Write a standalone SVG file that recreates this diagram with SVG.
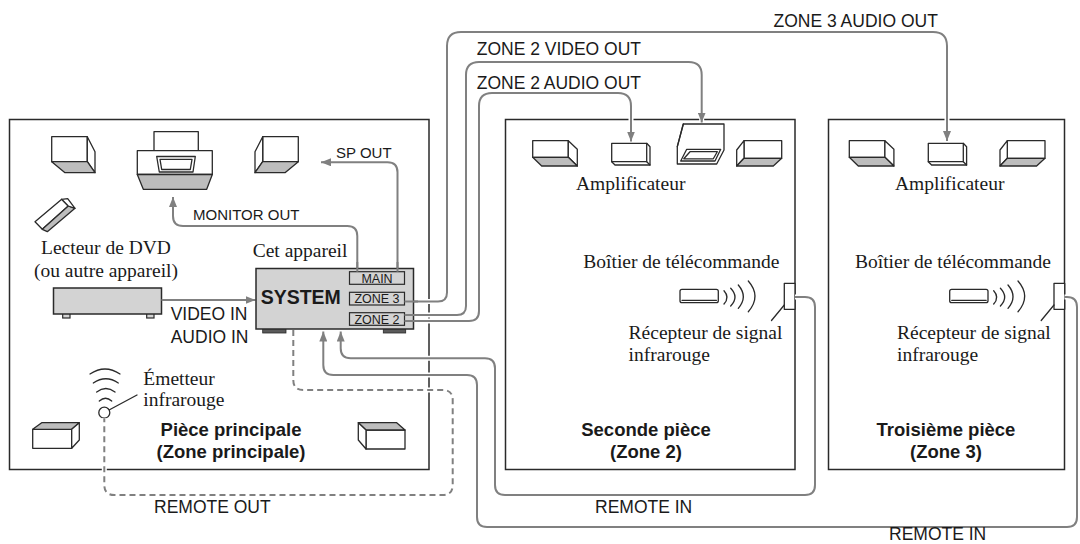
<svg xmlns="http://www.w3.org/2000/svg" xmlns:xlink="http://www.w3.org/1999/xlink" width="1080" height="544" viewBox="0 0 1080 544">
  <style>
    .room { fill: none; stroke: #2a2a2a; stroke-width: 1.5; }
    .ln { fill: none; stroke: #2a2a2a; stroke-width: 1.3; stroke-linejoin: round; stroke-linecap: round; }
    .face { fill: #ffffff; stroke: #2a2a2a; stroke-width: 1.3; stroke-linejoin: round; }
    .shade { fill: #bdbdbd; stroke: #2a2a2a; stroke-width: 1.3; stroke-linejoin: round; }
    .dev { fill: #d3d3d3; stroke: #2a2a2a; stroke-width: 1.5; }
    .foot { fill: #5a5a5a; stroke: #2a2a2a; stroke-width: 0.8; }
    .port { fill: #d3d3d3; stroke: #2a2a2a; stroke-width: 1.2; }
    .halo { fill: none; stroke: #ffffff; stroke-width: 5; }
    .wire { fill: none; stroke: #808080; stroke-width: 2; }
    .dash { stroke-dasharray: 6 4; }
    .arrow { marker-end: url(#arr); }
    .sans { font-family: "Liberation Sans", Arial, sans-serif; fill: #1a1a1a; }
    .lbl { font-size: 17.5px; }
    .lbl-s { font-size: 15px; }
    .tag { font-size: 12.5px; }
    .bold { font-weight: bold; font-size: 19.5px; }
    .title { font-weight: bold; font-size: 18.5px; }
    .serif { font-family: "Liberation Serif", "Times New Roman", serif; font-size: 19.5px; fill: #1a1a1a; }
    .mid { text-anchor: middle; }
  </style>
  <defs>
    <marker id="arr" viewBox="0 0 10 8" refX="10" refY="4" markerWidth="10" markerHeight="8" markerUnits="userSpaceOnUse" orient="auto">
      <path d="M0,0 L10,4 L0,8 z" fill="#808080"/>
    </marker>
    <!-- cube-style loudspeaker, shaded underside on the left -->
    <g id="spkA">
      <rect class="face" x="51.7" y="136.7" width="35.6" height="25"/>
      <polygon class="face" points="87.3,136.7 95,151.7 95,172.7 87.3,161.7"/>
      <polygon class="shade" points="51.7,161.7 87.3,161.7 95,172.7 65,172.7"/>
    </g>
    <!-- flat loudspeakers used in the other rooms -->
    <g id="spkB">
      <rect class="face" x="532.7" y="140.7" width="35.6" height="16.6"/>
      <polygon class="face" points="568.3,140.7 577.3,149.3 577.3,166 568.3,157.3"/>
      <polygon class="shade" points="532.7,157.3 568.3,157.3 577.3,166 541.7,166"/>
    </g>
    <g id="spkC">
      <rect class="face" x="744" y="140.7" width="37.7" height="17.6"/>
      <polygon class="face" points="744,140.7 736.7,150 736.7,166 744,158.3"/>
      <polygon class="shade" points="744,158.3 781.7,158.3 773.3,166 736.7,166"/>
    </g>
    <g id="amp">
      <polygon class="face" points="611.7,143.3 646.7,143.3 650,146.7 650,165 615,165 611.7,161.7"/>
      <polyline class="ln" points="611.7,161.7 646.7,161.7 646.7,143.3"/>
      <line class="ln" x1="646.7" y1="161.7" x2="650" y2="165"/>
    </g>
    <!-- hand-held remote with its infrared waves, and the receiver -->
    <g id="zoneRemote">
      <rect class="face" x="680" y="289.3" width="38.3" height="13.4" rx="2"/>
      <line class="ln" x1="682" y1="300.3" x2="716.5" y2="300.3"/>
      <path class="ln" d="M724,290.7 Q730,297.3 724,304"/>
      <path class="ln" d="M730.7,288.3 Q739.3,297.3 730.7,306"/>
      <path class="ln" d="M738.3,285 Q748.3,296.7 738.3,308.3"/>
      <path class="ln" d="M748.3,281 Q761.7,296.3 748.3,311.7"/>
      <rect class="face" x="784.3" y="283.3" width="10.7" height="26"/>
      <line class="ln" x1="784.3" y1="305" x2="771.5" y2="320.5"/>
    </g>

    <!-- cable routes -->
    <path id="cZ3a" d="M404.5,301.5 H438 Q447,301.5 447,292.5 V46 Q447,32 461,32 H933 Q947,32 947,46 V141"/>
    <path id="cZ2v" d="M404.5,315 H457 Q466,315 466,306 V75 Q466,62 479,62 H688.7 Q701.7,62 701.7,75 V122.5"/>
    <path id="cZ2a" d="M404.5,321 H469 Q479,321 479,311 V106 Q479,93 492,93 H618 Q631,93 631,106 V141.5"/>
    <path id="cSP" d="M397.5,271.7 V172.3 Q397.5,162.3 387.5,162.3 H321"/>
    <path id="cMon" d="M357.3,271.7 V236 Q357.3,226 347.3,226 H183 Q173,226 173,216 V197"/>
    <path id="cVid" d="M161.5,300 H255.5"/>
    <path id="cR2" d="M795,297 H805 Q815,297 815,307 V485 Q815,495 805,495 H505 Q495,495 495,485 V368.3 Q495,358.3 485,358.3 H350.7 Q340.7,358.3 340.7,348.3 V331.5"/>
    <path id="cR3" d="M1064.5,297 H1067 Q1077,297 1077,307 V517 Q1077,527 1067,527 H487 Q477,527 477,517 V385 Q477,375 467,375 H333.3 Q323.3,375 323.3,365 V331.5"/>
    <path id="cRo" d="M293.3,330 V380 Q293.3,390 303.3,390 H442.7 Q452.7,390 452.7,400 V485 Q452.7,495 442.7,495 H114.3 Q104.3,495 104.3,485 V418.2"/>
  </defs>

  <!-- rooms -->
  <g id="room-main">
    <rect class="room" x="9.5" y="119.5" width="419.5" height="350"/>
    <text class="sans title mid" x="231" y="436">Pièce principale</text>
    <text class="sans title mid" x="231" y="457.5">(Zone principale)</text>
  </g>
  <g id="room-zone2">
    <rect class="room" x="505.5" y="119.5" width="289.5" height="350"/>
    <text class="sans title mid" x="646" y="436">Seconde pièce</text>
    <text class="sans title mid" x="646" y="457.5">(Zone 2)</text>
  </g>
  <g id="room-zone3">
    <rect class="room" x="828.5" y="119.5" width="236" height="350"/>
    <text class="sans title mid" x="946" y="436">Troisième pièce</text>
    <text class="sans title mid" x="946" y="457.5">(Zone 3)</text>
  </g>

  <!-- main room equipment -->
  <g id="main-speakers">
    <use xlink:href="#spkA"/>
    <use xlink:href="#spkA" transform="translate(350,0) scale(-1,1)"/>
    <!-- surround pair -->
    <rect class="face" x="32.7" y="429.3" width="39" height="19"/>
    <polygon class="shade" points="32.7,429.3 41.7,422.7 79.3,422.7 71.7,429.3"/>
    <polygon class="face" points="71.7,429.3 79.3,422.7 79.3,440 71.7,448.3"/>
    <rect class="face" x="366" y="430" width="39" height="19"/>
    <polygon class="shade" points="358.3,422.7 396.7,422.7 405,430 366,430"/>
    <polygon class="face" points="358.3,422.7 366,430 366,449 358.3,440"/>
  </g>
  <g id="main-tv">
    <rect class="face" x="154" y="131.7" width="44.3" height="19"/>
    <rect class="face" x="137.3" y="150.7" width="75" height="23.8"/>
    <polygon class="shade" points="137.3,174.5 212.3,174.5 206.7,189.3 143.3,189.3"/>
    <polygon class="face" points="156.7,156.5 195.3,156.5 193,172 159.3,172"/>
    <polygon class="face" points="160,159.3 192,159.3 190.3,169.5 161.7,169.5"/>
  </g>
  <g id="main-remote">
    <polygon class="face" points="35,221.7 61.7,199.3 68.3,206 42.3,229.3"/>
    <polygon class="shade" points="42.3,229.3 68.3,206 75,208.3 47.3,231.7"/>
    <polygon class="face" points="61.7,199.3 67.7,198.7 75,208.3 68.3,206"/>
  </g>
  <g id="dvd">
    <rect class="port" x="62.7" y="313" width="7.3" height="5"/>
    <rect class="port" x="146.7" y="313" width="7.3" height="5"/>
    <rect class="dev" x="53.5" y="288" width="108" height="26"/>
    <text class="serif mid" x="106" y="254">Lecteur de DVD</text>
    <text class="serif mid" x="106" y="276.5">(ou autre appareil)</text>
  </g>
  <g id="emitter">
    <path class="ln" d="M90,374 Q105,364 120,374"/>
    <path class="ln" d="M93.3,383 Q105.8,374.5 118.3,383"/>
    <path class="ln" d="M96.7,392 Q105.8,385 115,392"/>
    <path class="ln" d="M99.3,401 Q105.5,395.5 111.7,401"/>
    <circle class="face" cx="104.3" cy="412.7" r="5.5"/>
    <line class="ln" x1="109.5" y1="409.8" x2="137" y2="395"/>
    <text class="serif" x="143.3" y="385">Émetteur</text>
    <text class="serif" x="143.3" y="405.5">infrarouge</text>
  </g>

  <!-- zone 2 equipment -->
  <g id="zone2-speakers">
    <use xlink:href="#spkB"/>
    <use xlink:href="#amp"/>
    <use xlink:href="#spkC"/>
    <polygon class="face" points="683.3,124 724,124 724,150 716.7,164 677.3,164 677.3,146.7"/>
    <polyline class="ln" points="677.3,146.7 683.3,124"/>
    <polygon class="face" points="686.7,149.3 720.7,149.3 715,161 680.7,161"/>
    <polygon class="face" points="690,151.7 717.3,151.7 713.3,158.8 683.8,158.8"/>
    <text class="serif" x="576" y="190">Amplificateur</text>
  </g>
  <g id="zone2-remote">
    <use xlink:href="#zoneRemote"/>
    <text class="serif" x="583.3" y="268.3">Boîtier de télécommande</text>
    <text class="serif" x="628.6" y="339">Récepteur de signal</text>
    <text class="serif" x="628.6" y="361">infrarouge</text>
  </g>

  <!-- zone 3 equipment -->
  <g id="zone3-speakers">
    <use xlink:href="#spkB" transform="translate(316.6,0)"/>
    <use xlink:href="#amp" transform="translate(316.6,0)"/>
    <use xlink:href="#spkC" transform="translate(263.3,0)"/>
    <text class="serif" x="895" y="190">Amplificateur</text>
  </g>
  <g id="zone3-remote">
    <use xlink:href="#zoneRemote" transform="translate(269.7,0)"/>
    <text class="serif" x="855" y="268.3">Boîtier de télécommande</text>
    <text class="serif" x="897" y="339">Récepteur de signal</text>
    <text class="serif" x="897" y="361">infrarouge</text>
  </g>

  <!-- connectors -->
  <g id="connectors">
    <use xlink:href="#cZ3a" class="halo"/>
    <use xlink:href="#cZ2v" class="halo"/>
    <use xlink:href="#cZ2a" class="halo"/>
    <use xlink:href="#cSP" class="halo"/>
    <use xlink:href="#cMon" class="halo"/>
    <use xlink:href="#cR2" class="halo"/>
    <use xlink:href="#cR3" class="halo"/>
    <use xlink:href="#cRo" class="halo"/>
    <use xlink:href="#cZ3a" class="wire arrow"/>
    <use xlink:href="#cZ2v" class="wire arrow"/>
    <use xlink:href="#cZ2a" class="wire arrow"/>
    <use xlink:href="#cSP" class="wire arrow"/>
    <use xlink:href="#cMon" class="wire arrow"/>
    <use xlink:href="#cVid" class="wire arrow"/>
    <use xlink:href="#cR2" class="wire arrow"/>
    <use xlink:href="#cR3" class="wire arrow"/>
    <use xlink:href="#cRo" class="wire dash"/>
    <text class="sans lbl" x="773.5" y="27">ZONE 3 AUDIO OUT</text>
    <text class="sans lbl" x="476.7" y="55">ZONE 2 VIDEO OUT</text>
    <text class="sans lbl" x="476.7" y="89">ZONE 2 AUDIO OUT</text>
    <text class="sans lbl-s" x="336" y="158.3">SP OUT</text>
    <text class="sans lbl-s" x="193" y="220">MONITOR OUT</text>
    <text class="sans lbl" x="170.7" y="320">VIDEO IN</text>
    <text class="sans lbl" x="170.7" y="342.7">AUDIO IN</text>
    <text class="sans lbl" x="154" y="512.7">REMOTE OUT</text>
    <text class="sans lbl" x="595" y="512.7">REMOTE IN</text>
    <text class="sans lbl" x="889" y="539.5">REMOTE IN</text>
  </g>

  <!-- the receiver unit, drawn above the cables that leave it -->
  <g id="system">
    <rect class="foot" x="262.7" y="328" width="23.3" height="5"/>
    <rect class="foot" x="383.3" y="328" width="22.4" height="5"/>
    <rect class="dev" x="256" y="268.5" width="157.5" height="60.5"/>
    <text class="serif" x="252.7" y="256.5">Cet appareil</text>
    <text class="sans bold" x="260.7" y="304">SYSTEM</text>
    <rect class="port" x="349.5" y="271.7" width="55" height="12.6"/>
    <rect class="port" x="349.5" y="292.3" width="55" height="12.7"/>
    <rect class="port" x="349.5" y="312.7" width="55" height="12.6"/>
    <text class="sans tag mid" x="377" y="282.6">MAIN</text>
    <text class="sans tag mid" x="377" y="303.3">ZONE 3</text>
    <text class="sans tag mid" x="377" y="323.6">ZONE 2</text>
  </g>
  <!-- port cables re-drawn over the unit body -->
  <g id="port-leads">
    <path class="wire" d="M404.5,301.5 H418"/>
    <path class="wire" d="M404.5,315 H418"/>
    <path class="wire" d="M404.5,321 H418"/>
    <path class="wire" d="M397.5,271.7 V262"/>
    <path class="wire" d="M357.3,271.7 V262"/>
  </g>
</svg>
